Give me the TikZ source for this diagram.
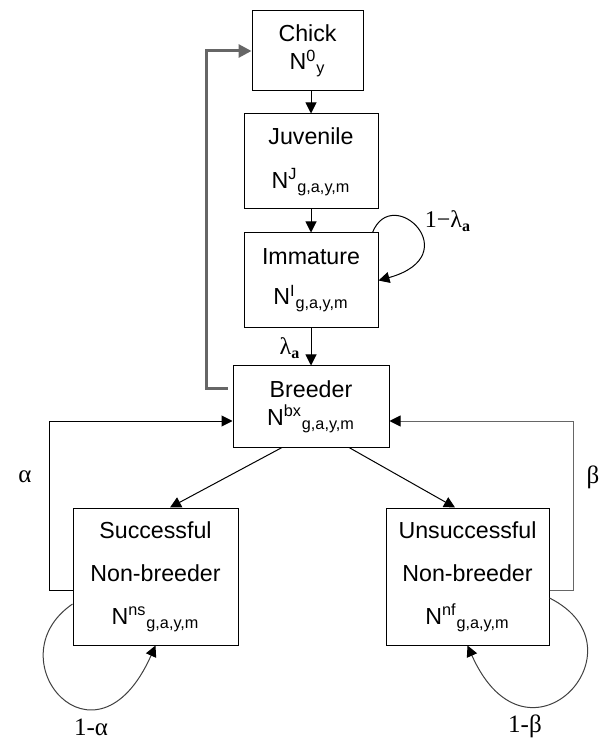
\documentclass[tikz,border=0pt]{standalone}
\usepackage{fontspec}
\setmainfont{Liberation Sans}
\newfontfamily\greekfont{Liberation Serif}
\usetikzlibrary{arrows.meta}
\begin{document}
\begin{tikzpicture}[x=0.5pt, y=-0.5pt,
  box/.style={draw, line width=0.5pt, align=center, inner sep=0pt, font=\fontsize{11.6}{14}\selectfont},
  arr/.style={line width=0.5pt, -{Triangle[length=5.5pt,width=5.5pt,color=black]}},
  back/.style={line width=1.5pt, draw=black!60, -{Triangle[length=6.5pt,width=6.5pt]}},
  lab/.style={font=\greekfont\fontsize{12.5}{14}\selectfont},
  labsm/.style={font=\greekfont\fontsize{12}{14}\selectfont}]
\useasboundingbox (0,0) rectangle (607,747);

\node[box, minimum width=55.5pt, minimum height=40pt] (chick) at (307.5,51) {Chick\\N\textsuperscript{0}\textsubscript{y}};
\node[box, minimum width=67pt, minimum height=47.5pt] (juv) at (311,161.5) {Juvenile\\[8pt]N\textsuperscript{J}\textsubscript{g,a,y,m}};
\node[box, minimum width=67pt, minimum height=47.5pt] (imm) at (311,280.5) {Immature\\[6pt]N\textsuperscript{I}\textsubscript{g,a,y,m}};
\node[box, minimum width=78pt, minimum height=40.5pt] (breeder) at (311,406.5) {Breeder\\N\textsuperscript{bx}\textsubscript{g,a,y,m}};
\node[box, minimum width=82.5pt, minimum height=68.5pt] (succ) at (155.5,576.5) {Successful\\[7.5pt]Non-breeder\\[7.5pt]N\textsuperscript{ns}\textsubscript{g,a,y,m}};
\node[box, minimum width=81.5pt, minimum height=68.5pt] (unsucc) at (467.5,576.5) {Unsuccessful\\[7.5pt]Non-breeder\\[7.5pt]N\textsuperscript{nf}\textsubscript{g,a,y,m}};

\draw[arr] (chick.south -| juv.north) -- (juv.north);
\draw[arr] (juv.south) -- (imm.north);
\draw[arr] (imm.south) -- (breeder.north);
\draw[back] ([xshift=-2.5pt, yshift=8.75pt]breeder.west) -- ++(-21,0) |- (chick.west);

\draw[arr] ([xshift=-3pt]imm.north east) .. controls +(20,-50) and +(90,-25) .. (imm.east);
\draw[arr] ([xshift=-14.5pt]breeder.south) -- ([xshift=7.25pt]succ.north);
\draw[arr] ([xshift=19pt]breeder.south) -- ([xshift=-6.25pt]unsucc.north);

\draw[arr] ([yshift=-6.75pt]succ.west) -- ++(-23,0) |- ([yshift=-7.25pt]breeder.west);
\draw[arr, draw=black!60] ([yshift=-6.75pt]unsucc.east) -- ++(24,0) |- ([yshift=-7.25pt]breeder.east);
\draw[arr, draw=black!75] ([yshift=-13.75pt]succ.west) .. controls +(-80,55) and +(-60,135) .. (succ.south);
\draw[arr, draw=black!75] ([yshift=-10.75pt]unsucc.east) .. controls +(100,50) and +(60,135) .. (unsucc.south);

\node[labsm] (stayI) at (448,221) {1−λ\textsubscript{\textbf{a}}};
\node[labsm] (lambda) at (290,348) {λ\textsubscript{\textbf{a}}};
\node[lab] (alpha) at (25,477) {α};
\node[lab] (beta) at (593,477) {β};
\node[lab] (stayS) at (91,727) {1-α};
\node[lab] (stayU) at (525,726) {1-β};
\end{tikzpicture}
\end{document}
